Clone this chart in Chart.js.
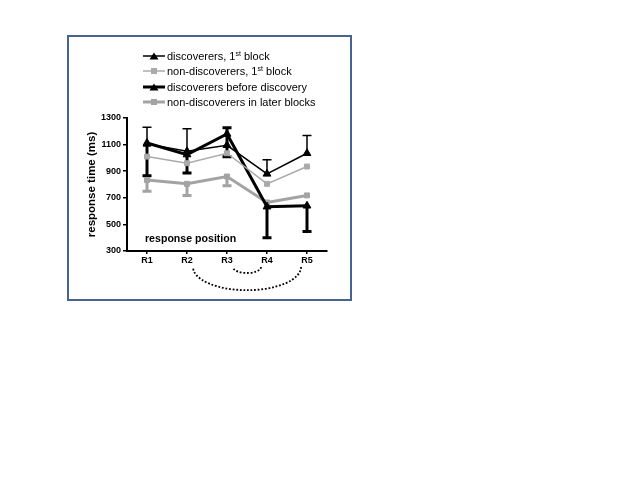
<!DOCTYPE html>
<html>
<head>
<meta charset="utf-8">
<script src="https://cdn.jsdelivr.net/npm/chart.js@4"></script>
<style>
  html, body { margin: 0; padding: 0; background: #fff; }
  #page { position: relative; width: 640px; height: 480px; overflow: hidden; font-family: "Liberation Sans", Arial, sans-serif; }
  #frame { position: absolute; left: 67px; top: 35px; width: 281px; height: 262px; border: 2px solid #46648f; }
  #chart { position: absolute; left: 0; top: 0; }
  #legend { position: absolute; left: 143px; top: 49px; font-size: 11px; color: #000; }
  #legend .row { height: 15.4px; line-height: 15.4px; white-space: nowrap; }
  #legend svg { vertical-align: middle; margin-right: 2px; position: relative; top: -1px; }
  #legend sup { font-size: 7px; vertical-align: 4px; line-height: 0; }
  #xlabel { position: absolute; left: 145px; top: 232px; font: bold 10.6px "Liberation Sans", Arial, sans-serif; }
</style>
</head>
<body>
<div id="page">
  <div id="frame"></div>
  <canvas id="chart" width="640" height="480"></canvas>
  <div id="legend"></div>
  <div id="xlabel">response position</div>
</div>
<script>
// categories and series (response time, ms)
const positions = ["R1", "R2", "R3", "R4", "R5"];
const discFirst = [1105, 1050, 1095, 880, 1035];
const nonDiscFirst = [1010, 960, 1035, 805, 935];
const discBefore = [1112, 1025, 1180, 633, 640];
const nonDiscLater = [833, 805, 860, 665, 718];

// error bar ends (null = not shown)
const discFirstUpper = [1230, 1220, null, 987, 1168];
const discBeforeUpper = [null, null, 1226, null, null];
const discBeforeLower = [866, 886, 1008, 400, 446];
const nonDiscLaterLower = [750, 718, 790, null, null];

// pairs of positions joined by dotted arcs under the axis
const arcPairs = [["R2", "R5"], ["R3", "R4"]];

const yTicks = [300, 500, 700, 900, 1100, 1300];

const series = [
  { label: "discoverers, 1<sup>st</sup> block", data: discFirst, color: "#000", width: 1.5, point: "triangle", radius: 4.5 },
  { label: "non-discoverers, 1<sup>st</sup> block", data: nonDiscFirst, color: "#aaa", width: 1.5, point: "rect", radius: 3.5 },
  { label: "discoverers before discovery", data: discBefore, color: "#000", width: 3, point: "triangle", radius: 4.5 },
  { label: "non-discoverers in later blocks", data: nonDiscLater, color: "#a3a3a3", width: 3, point: "rect", radius: 3.5 },
];

const errorBars = [
  { ends: discFirstUpper, base: discFirst, color: "#000", width: 1.5 },
  { ends: discBeforeUpper, base: discBefore, color: "#000", width: 3 },
  { ends: discBeforeLower, base: discBefore, color: "#000", width: 3 },
  { ends: nonDiscLaterLower, base: nonDiscLater, color: "#a3a3a3", width: 3 },
];

const errorBarPlugin = {
  id: "errorBars",
  beforeDatasetsDraw(chart) {
    const { ctx, scales: { x, y } } = chart;
    ctx.save();
    errorBars.forEach((eb) => {
      ctx.strokeStyle = eb.color;
      ctx.lineWidth = eb.width;
      eb.ends.forEach((v, i) => {
        if (v == null) return;
        const px = x.getPixelForValue(i);
        const y0 = y.getPixelForValue(eb.base[i]);
        const y1 = y.getPixelForValue(v);
        ctx.beginPath();
        ctx.moveTo(px, y0);
        ctx.lineTo(px, y1);
        ctx.moveTo(px - 4.5, y1);
        ctx.lineTo(px + 4.5, y1);
        ctx.stroke();
      });
    });
    ctx.restore();
  },
};

const arcPlugin = {
  id: "arcs",
  afterDraw(chart) {
    const { ctx, scales: { x } } = chart;
    ctx.save();
    ctx.strokeStyle = "#000";
    ctx.lineWidth = 1.8;
    ctx.setLineDash([1.8, 1.8]);
    arcPairs.forEach(([a, b]) => {
      const xa = x.getPixelForValue(positions.indexOf(a)) + 6;
      const xb = x.getPixelForValue(positions.indexOf(b)) - 6;
      const rx = (xb - xa) / 2;
      const ry = Math.max(6, rx * 0.43);
      ctx.beginPath();
      ctx.ellipse((xa + xb) / 2, x.bottom - 4, rx, ry, 0, 0, Math.PI);
      ctx.stroke();
    });
    ctx.restore();
  },
};

new Chart(document.getElementById("chart"), {
  type: "line",
  data: {
    labels: positions,
    datasets: series.map((s) => ({
      label: s.label,
      data: s.data,
      borderColor: s.color,
      backgroundColor: s.color,
      borderWidth: s.width,
      pointStyle: s.point,
      pointRadius: s.radius,
      pointBorderWidth: 1,
      tension: 0,
    })),
  },
  options: {
    responsive: false,
    devicePixelRatio: 1,
    animation: false,
    layout: { padding: { left: 81, top: 118, right: 313, bottom: 209 } },
    plugins: { legend: { display: false }, tooltip: { enabled: false } },
    scales: {
      x: {
        offset: true,
        afterFit: (s) => { s.height = 20; },
        grid: { drawOnChartArea: false, drawTicks: true, tickLength: 3, color: "#000", lineWidth: 1.5 },
        border: { display: true, color: "#000", width: 2 },
        ticks: { color: "#000", padding: 1, font: { family: "Liberation Sans", size: 9, weight: "bold" } },
      },
      y: {
        min: 300,
        max: 1300,
        afterFit: (s) => { s.width = 46; },
        ticks: {
          stepSize: 100,
          color: "#000",
          padding: 2,
          font: { family: "Liberation Sans", size: 9, weight: "bold" },
          callback: (v) => (yTicks.includes(v) ? v : ""),
        },
        grid: { drawOnChartArea: false, drawTicks: true, tickLength: 4, color: "#000", lineWidth: 1.5 },
        border: { display: true, color: "#000", width: 2 },
        title: {
          display: true,
          text: "response time (ms)",
          color: "#000",
          padding: { top: 4, bottom: 0 },
          font: { family: "Liberation Sans", size: 11.5, weight: "bold" },
        },
      },
    },
  },
  plugins: [errorBarPlugin, arcPlugin],
});

// legend with superscripts
document.getElementById("legend").innerHTML = series
  .map((s) => {
    const marker = s.point === "triangle"
      ? `<polygon points="11,1.5 15.5,8.5 6.5,8.5" fill="${s.color}"/>`
      : `<rect x="8" y="2" width="6" height="6" fill="${s.color}"/>`;
    return `<div class="row"><svg width="22" height="10"><line x1="0" y1="5" x2="22" y2="5" stroke="${s.color}" stroke-width="${s.width}"/>${marker}</svg>${s.label}</div>`;
  })
  .join("");
</script>
</body>
</html>
